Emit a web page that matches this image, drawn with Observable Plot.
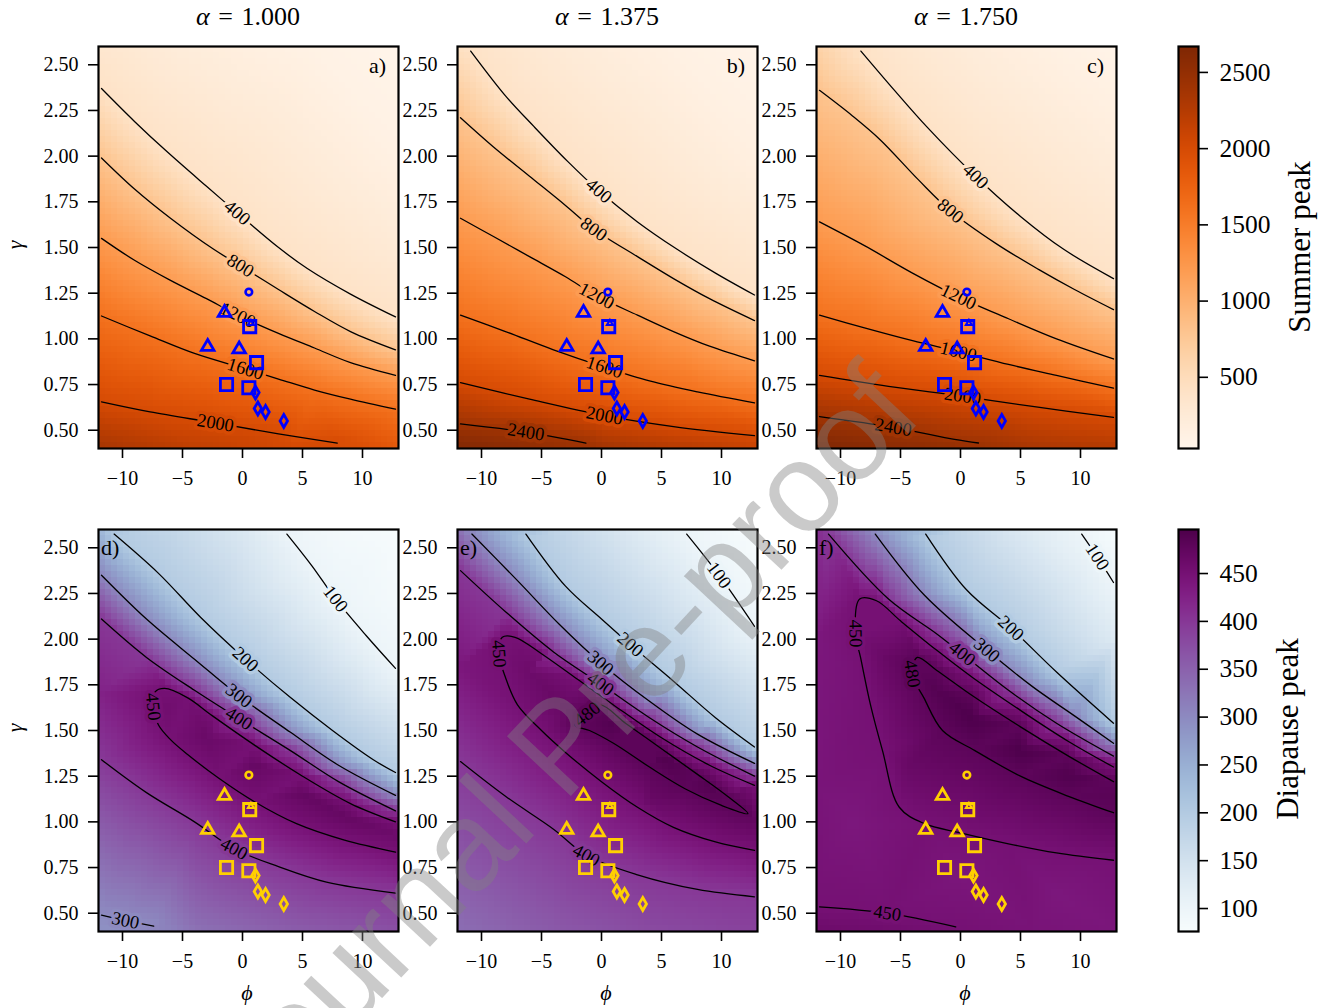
<!DOCTYPE html>
<html><head><meta charset="utf-8">
<script src="https://cdn.jsdelivr.net/npm/d3@7"></script>
<script src="https://cdn.jsdelivr.net/npm/@observablehq/plot@0.6"></script>
<style>
body{margin:0;background:#fff;}
#fig{position:relative;width:1328px;height:1008px;overflow:hidden;background:#fff;}
</style></head><body><div id="fig"></div>
<script>
// ---------------- data ----------------
const phiTicks = [-10, -5, 0, 5, 10];
const gammaTicks = [0.5, 0.75, 1.0, 1.25, 1.5, 1.75, 2.0, 2.25, 2.5];
const alphaLabels = ["1.000", "1.375", "1.750"];
const topLetters = ["a)", "b)", "c)"];
const bottomLetters = ["d)", "e)", "f)"];
const summerTicks = [500, 1000, 1500, 2000, 2500];
const diapauseTicks = [100, 150, 200, 250, 300, 350, 400, 450];
const summerRange = [33, 2670];
const diapauseRange = [76, 496];

// observation markers (phi, gamma)
const circlePts = [[0.53, 1.256]];
const trianglePts = [[-1.5, 1.143], [-2.9, 0.957], [-0.28, 0.943]];
const smallTrianglePts = [[0.7, 1.085]];
const squarePts = [[0.6, 1.067], [1.17, 0.87], [-1.33, 0.75], [0.53, 0.733]];
const diamondPts = [[1.08, 0.706], [1.28, 0.619], [1.92, 0.60], [3.44, 0.551]];

// contour lines: level, label index, points [phi, gamma]
const contoursA = [
  {level: 400, li: 4, pts: [[-11.75,2.37],[-9,2.19],[-6.3,2.025],[-3,1.835],[-0.44,1.69],[2.9,1.505],[5.4,1.385],[9,1.245],[12.75,1.12]]},
  {level: 800, li: 4, pts: [[-11.75,1.99],[-9,1.82],[-6,1.66],[-2.4,1.49],[-0.17,1.40],[3,1.27],[6,1.15],[9,1.04],[12.75,0.94]]},
  {level: 1200, li: 4, pts: [[-11.75,1.55],[-9,1.43],[-6,1.32],[-3,1.22],[-0.4,1.13],[3,1.03],[6,0.95],[9,0.87],[12.75,0.80]]},
  {level: 1600, li: 3, pts: [[-11.75,1.125],[-7.7,1.016],[-4,0.92],[0.25,0.835],[3,0.78],[6,0.72],[9,0.67],[12.75,0.615]]},
  {level: 2000, li: 2, pts: [[-11.75,0.655],[-7.7,0.60],[-2.25,0.54],[3,0.48],[7.9,0.43]]}
];
const anchorsA = [[-12,2.6,330],[-6,2.6,230],[0,2.6,160],[6,2.6,100],[13,2.6,45],[13,2.0,120],[13,1.5,260],
  [-12,0.4,2350],[-4,0.4,2170],[4,0.4,2020],[13,0.4,1850]];

const contoursB = [
  {level: 400, li: 4, pts: [[-10.9,2.575],[-8,2.33],[-5.6,2.16],[-2.8,1.97],[-0.22,1.81],[3,1.64],[6.3,1.49],[9.5,1.36],[12.75,1.24]]},
  {level: 800, li: 4, pts: [[-11.75,2.21],[-9,2.05],[-6,1.89],[-3,1.73],[-0.64,1.60],[3,1.45],[6,1.33],[9,1.22],[12.75,1.10]]},
  {level: 1200, li: 4, pts: [[-11.75,1.66],[-9,1.56],[-6,1.45],[-3,1.34],[-0.4,1.235],[3,1.13],[6,1.04],[9,0.96],[12.75,0.88]]},
  {level: 1600, li: 3, pts: [[-11.75,1.13],[-8,1.04],[-4,0.94],[0.25,0.845],[4,0.77],[8,0.71],[12.75,0.65]]},
  {level: 2000, li: 2, pts: [[-11.75,0.76],[-6,0.67],[0.25,0.58],[6,0.52],[12.75,0.47]]},
  {level: 2400, li: 1, pts: [[-11.75,0.535],[-6.3,0.49],[-1.3,0.43]]}
];
const anchorsB = [[-12,2.6,430],[-6,2.6,290],[0,2.6,200],[6,2.6,120],[13,2.6,55],[13,2.0,150],[13,1.6,280],
  [-12,0.4,2640],[0,0.4,2380],[6,0.4,2250],[13,0.4,2100]];

const contoursC = [
  {level: 400, li: 3, pts: [[-8.3,2.575],[-5.5,2.36],[-2.8,2.16],[1.25,1.89],[5,1.67],[8.6,1.49],[12.75,1.33]]},
  {level: 800, li: 4, pts: [[-11.75,2.36],[-9,2.22],[-6.7,2.09],[-3.5,1.87],[-0.83,1.70],[3,1.52],[6.5,1.38],[9.5,1.27],[12.75,1.16]]},
  {level: 1200, li: 3, pts: [[-11.75,1.64],[-8,1.51],[-4,1.36],[-0.17,1.23],[4,1.11],[8,1.00],[12.75,0.89]]},
  {level: 1600, li: 3, pts: [[-11.75,1.13],[-8,1.06],[-4,0.99],[-0.17,0.93],[4,0.86],[8,0.80],[12.75,0.73]]},
  {level: 2000, li: 2, pts: [[-11.75,0.80],[-6,0.74],[0.17,0.686],[6,0.63],[12.75,0.57]]},
  {level: 2400, li: 1, pts: [[-11.75,0.575],[-5.6,0.516],[-0.5,0.45],[1.5,0.43]]}
];
const anchorsC = [[-12,2.6,640],[-4,2.6,300],[2,2.6,200],[8,2.6,120],[13,2.6,65],[13,2.1,180],[13,1.7,290],
  [-12,0.4,2670],[0,0.4,2480],[6,0.4,2330],[13,0.4,2250]];

const contoursD = [
  {level: 100, li: 2, pts: [[3.7,2.575],[5.8,2.40],[7.75,2.22],[10.3,2.02],[12.75,1.84]]},
  {level: 200, li: 3, pts: [[-10.7,2.575],[-7,2.36],[-3.5,2.12],[0.25,1.89],[4,1.68],[7.5,1.50],[10.9,1.34],[12.75,1.27]]},
  {level: 300, li: 3, pts: [[-11.75,2.35],[-8,2.11],[-4,1.89],[-0.3,1.69],[4,1.49],[8,1.31],[12.75,1.145]]},
  {level: 400, li: 3, pts: [[-11.75,2.11],[-8,1.90],[-4,1.72],[-0.3,1.565],[4,1.39],[8,1.22],[12.75,1.06]]},
  {level: 450, li: 8, pts: [[12.75,1.0],[9,1.10],[5,1.25],[1,1.42],[-2.5,1.58],[-4.6,1.68],[-6.5,1.73],[-7.3,1.71],[-7.45,1.63],[-7.0,1.53],[-6,1.45],[-4.6,1.37],[-2,1.24],[1,1.11],[4.5,0.99],[8.5,0.90],[12.75,0.835]]},
  {level: 400, li: 3, pts: [[-11.75,1.34],[-8,1.16],[-4,1.0],[-0.7,0.853],[3,0.755],[7,0.67],[12.75,0.61]]},
  {level: 300, li: 1, pts: [[-11.75,0.49],[-9.75,0.46],[-7.4,0.43]]}
];
const anchorsD = [[-12,2.6,240],[-6,2.6,175],[0,2.6,135],[8,2.6,85],[13,2.6,78],[13,2.2,85],[13,1.55,150],
  [-12,1.7,425],[-12,0.4,290],[-4,0.4,330],[4,0.4,355],[13,0.4,372],[13,0.92,462],
  [-6.5,1.62,458],[-3,1.46,466],[1,1.31,470],[5,1.15,472],[9,1.01,470]];

const contoursE = [
  {level: 100, li: 1, pts: [[7.1,2.575],[9.8,2.35],[12.75,2.07]]},
  {level: 200, li: 3, pts: [[-6.3,2.575],[-3,2.29],[0,2.11],[2.4,1.97],[6,1.77],[9.5,1.57],[12.75,1.41]]},
  {level: 300, li: 3, pts: [[-10.8,2.575],[-7,2.32],[-3.5,2.08],[-0.08,1.87],[4,1.66],[8,1.48],[12.75,1.32]]},
  {level: 400, li: 3, pts: [[-11.75,2.375],[-8,2.15],[-4,1.93],[-0.08,1.755],[4,1.57],[8,1.41],[12.75,1.25]]},
  {level: 450, li: 8, pts: [[12.75,1.20],[9,1.31],[5,1.46],[1,1.64],[-2,1.78],[-5,1.92],[-7.2,2.01],[-8.27,2.01],[-8.55,1.92],[-8.0,1.79],[-7,1.64],[-5,1.50],[-3,1.38],[0,1.22],[3,1.08],[6,0.97],[9.5,0.89],[12.75,0.844]]},
  {level: 480, li: 1, closed: true, pts: [[-2.2,1.53],[-1.2,1.59],[-0.1,1.64],[2,1.54],[5,1.40],[8,1.26],[10.5,1.14],[12.2,1.045],[10,1.09],[7,1.18],[4,1.30],[1,1.43],[-1,1.50]]},
  {level: 400, li: 3, pts: [[-11.75,1.33],[-8,1.14],[-4,0.96],[-1.26,0.817],[3,0.71],[8,0.63],[12.75,0.59]]}
];
const anchorsE = [[-12,2.6,330],[0,2.6,150],[13,2.6,76],[13,2.3,88],[13,1.75,150],
  [-12,1.85,440],[-12,0.4,335],[-4,0.4,360],[4,0.4,378],[13,0.4,388],[13,1.0,470],
  [1,1.52,490],[5,1.36,492],[9,1.19,490],[-6,1.82,462],[-3,1.62,470],[4,1.12,468]];

const contoursF = [
  {level: 100, li: 1, pts: [[10.1,2.575],[11.4,2.45],[12.75,2.31]]},
  {level: 200, li: 2, pts: [[-2.9,2.575],[0.5,2.27],[4.2,2.06],[8,1.82],[12.75,1.54]]},
  {level: 300, li: 2, pts: [[-7.1,2.575],[-3,2.24],[2.2,1.94],[6,1.74],[9.5,1.58],[12.75,1.43]]},
  {level: 400, li: 3, pts: [[-11,2.575],[-6,2.22],[-2,2.03],[0.14,1.92],[4,1.72],[8,1.54],[12.75,1.36]]},
  {level: 450, li: 8, pts: [[12.75,1.30],[9,1.44],[5,1.61],[1,1.79],[-2,1.94],[-5,2.10],[-7,2.21],[-8.4,2.22],[-8.75,2.03],[-8.33,1.90],[-7.5,1.64],[-6.5,1.39],[-5.1,1.08],[-3,0.99],[0,0.94],[4,0.88],[8,0.83],[12.75,0.79]]},
  {level: 480, li: 6, pts: [[12.75,1.22],[9,1.36],[5,1.52],[1,1.69],[-2,1.83],[-3.6,1.90],[-4.03,1.81],[-3.06,1.68],[-1.5,1.50],[1.2,1.39],[5,1.25],[9,1.14],[12.75,1.05]]},
  {level: 450, li: 1, pts: [[-11.75,0.535],[-6.1,0.50],[-0.4,0.425]]}
];
const anchorsF = [[-12,2.6,410],[4,2.6,140],[13,2.6,78],[13,2.0,130],
  [-12,2.0,440],[-12,1.2,444],[-12,0.7,448],[-12,0.4,462],[-6,0.4,458],[0,0.4,451],[6,0.4,446],[13,0.4,442],
  [13,1.14,484],[-2,1.72,488],[1,1.56,495],[5,1.39,496],[9,1.25,492],[-6.5,1.9,466],[-4.5,1.3,467],
  [-9,1.0,440],[0,0.7,442],[8,0.6,440]];

// ---------------- layout helpers ----------------
const FONT = '"Liberation Serif","DejaVu Serif",serif';
const FW = 300, FH = 402, ML = 75, MR = 10, MT = 10, MB = 60;
const KX = FW / 25, KY = FH / 2.2;
const fig = document.getElementById("fig");
const baseStyle = {background: "transparent", overflow: "visible", fontFamily: FONT, fontSize: "20px", color: "black"};

function place(node, left, top) {
  const d = document.createElement("div");
  d.style.cssText = `position:absolute;left:${left}px;top:${top}px;`;
  d.appendChild(node);
  fig.appendChild(d);
}
function txt(html, x, y, size, opts = {}) {
  const d = document.createElement("div");
  d.innerHTML = html;
  const tx = opts.anchor === "end" ? "-100%" : opts.anchor === "start" ? "0" : "-50%";
  d.style.cssText = `position:absolute;left:${x}px;top:${y}px;transform:translate(${tx},-50%) rotate(${opts.rot || 0}deg);` +
    `font-family:${FONT};font-size:${size}px;white-space:nowrap;line-height:1;color:#000;`;
  fig.appendChild(d);
}
function labelAngle(a, b) {
  let ang = Math.atan2(-(b[1] - a[1]) * KY, (b[0] - a[0]) * KX) * 180 / Math.PI;
  if (ang > 90) ang -= 180;
  if (ang < -90) ang += 180;
  return ang;
}
const fmtPhi = d => d < 0 ? "\u2212" + Math.abs(d) : String(d);

function panel(p) {
  const color = d3.scaleSequential(p.interp).domain(p.domain);
  const field = [];
  for (const c of p.contours) for (const q of c.pts) field.push({x: q[0], y: q[1], v: c.level});
  for (const a of p.anchors) field.push({x: a[0], y: a[1], v: a[2]});
  const openL = [], closedL = [];
  p.contours.forEach((c, i) => {
    const arr = c.closed ? closedL : openL;
    for (const q of c.pts) arr.push({x: q[0], y: q[1], id: i});
  });
  const labs = p.contours.filter(c => c.li != null).map(c => {
    const n = c.pts.length;
    const q = c.pts[c.li], a = c.pts[(c.li - 1 + n) % n], b = c.pts[(c.li + 1) % n];
    return Plot.text([q], {x: d => d[0], y: d => d[1], text: () => String(c.level),
      rotate: labelAngle(a, b), fill: "black", stroke: color(c.level), strokeWidth: 7,
      paintOrder: "stroke", strokeLinejoin: "round", fontSize: 18.5, fontFamily: FONT});
  });
  const mk = (data, symbol, r, sw) => Plot.dot(data, {x: d => d[0], y: d => d[1], symbol, r,
    stroke: p.mColor, strokeWidth: sw, fill: "none"});
  return Plot.plot({
    width: ML + FW + MR, height: MT + FH + MB,
    marginLeft: ML, marginRight: MR, marginTop: MT, marginBottom: MB,
    x: {domain: [-12, 13]}, y: {domain: [0.4, 2.6]},
    color: {type: "sequential", scheme: p.scheme, domain: p.domain},
    style: baseStyle,
    marks: [
      Plot.raster(field, {x: "x", y: "y", fill: "v", interpolate: "barycentric", pixelSize: 6,
        imageRendering: "pixelated", x1: -12, x2: 13, y1: 0.4, y2: 2.6}),
      Plot.line(openL, {x: "x", y: "y", z: "id", curve: "catmull-rom", stroke: "black", strokeWidth: 1.3, clip: true}),
      Plot.line(closedL, {x: "x", y: "y", z: "id", curve: "catmull-rom-closed", stroke: "black", strokeWidth: 1.3, clip: true}),
      ...labs,
      mk(circlePts, "circle", 3.3, 2.6),
      mk(trianglePts, "triangle2", 6.0, 2.8),
      mk(smallTrianglePts, "triangle2", 2.8, 2.2),
      mk(squarePts, "square2", 7.8, 2.8),
      mk(diamondPts, "diamond", 3.9, 2.8),
      Plot.frame({stroke: "black", strokeWidth: 2.2}),
      Plot.axisX({ticks: phiTicks, tickFormat: fmtPhi, tickSize: 10, tickPadding: 12, fontSize: 20,
        strokeWidth: 1.6, label: null, fontFamily: FONT}),
      Plot.axisY({ticks: gammaTicks, tickFormat: d3.format(".2f"), tickSize: 10, tickPadding: 10, fontSize: 20,
        strokeWidth: 1.6, label: null, fontFamily: FONT})
    ]
  });
}

function colorbar(scheme, domain, ticks) {
  return Plot.plot({
    width: 1 + 20 + 90, height: 1 + FH + 1,
    marginLeft: 1, marginRight: 90, marginTop: 1, marginBottom: 1,
    x: {domain: [0, 1], axis: null}, y: {domain},
    color: {type: "sequential", scheme, domain},
    style: baseStyle,
    marks: [
      Plot.raster({x1: 0, x2: 1, y1: domain[0], y2: domain[1], fill: (x, y) => y, pixelSize: 1}),
      Plot.frame({stroke: "black", strokeWidth: 2.2}),
      Plot.axisY({anchor: "right", ticks, tickFormat: d3.format("d"), tickSize: 9, tickPadding: 12, fontSize: 25.5,
        strokeWidth: 1.6, label: null, fontFamily: FONT})
    ]
  });
}

// ---------------- build ----------------
const frameLefts = [98, 457, 816];
const frameTops = [46, 529];
const topSets = [[contoursA, anchorsA], [contoursB, anchorsB], [contoursC, anchorsC]];
const botSets = [[contoursD, anchorsD], [contoursE, anchorsE], [contoursF, anchorsF]];

topSets.forEach(([contours, anchors], i) => {
  place(panel({contours, anchors, scheme: "oranges", interp: d3.interpolateOranges, domain: summerRange, mColor: "#0000ff"}),
    frameLefts[i] - ML, frameTops[0] - MT);
});
botSets.forEach(([contours, anchors], i) => {
  place(panel({contours, anchors, scheme: "bupu", interp: d3.interpolateBuPu, domain: diapauseRange, mColor: "#ffd000"}),
    frameLefts[i] - ML, frameTops[1] - MT);
});
place(colorbar("oranges", summerRange, summerTicks), 1178 - 1, frameTops[0] - 1);
place(colorbar("bupu", diapauseRange, diapauseTicks), 1178 - 1, frameTops[1] - 1);

// texts
alphaLabels.forEach((a, i) => txt(`<i>\u03b1</i>\u2004=\u2004${a}`, frameLefts[i] + FW / 2, 17, 26));
topLetters.forEach((l, i) => txt(l, frameLefts[i] + FW - 12, 66, 22, {anchor: "end"}));
bottomLetters.forEach((l, i) => txt(l, frameLefts[i] + 3, 548, 22, {anchor: "start"}));
txt("<i>\u03b3</i>", 15, 245, 22, {rot: -90});
txt("<i>\u03b3</i>", 15, 728, 22, {rot: -90});
frameLefts.forEach(x => txt("<i>\u03d5</i>", x + FW / 2 - 1, 993, 22));
txt("Summer peak", 1299, 247, 31, {rot: -90});
txt("Diapause peak", 1287, 729, 31, {rot: -90});

// watermark
const ns = "http://www.w3.org/2000/svg";
const wm = document.createElementNS(ns, "svg");
wm.setAttribute("width", 1328); wm.setAttribute("height", 1008);
wm.style.cssText = "position:absolute;left:0;top:0;pointer-events:none;";
const t = document.createElementNS(ns, "text");
t.setAttribute("x", 558); t.setAttribute("y", 745);
t.setAttribute("transform", "rotate(-47 558 745)");
t.setAttribute("text-anchor", "middle");
t.setAttribute("dominant-baseline", "central");
t.setAttribute("font-family", '"Liberation Sans", Arial, sans-serif');
t.setAttribute("font-size", 127);
t.setAttribute("fill", "#808080");
t.setAttribute("fill-opacity", 0.42);
t.textContent = "Journal Pre-proof";
wm.appendChild(t);
fig.appendChild(wm);
</script></body></html>
